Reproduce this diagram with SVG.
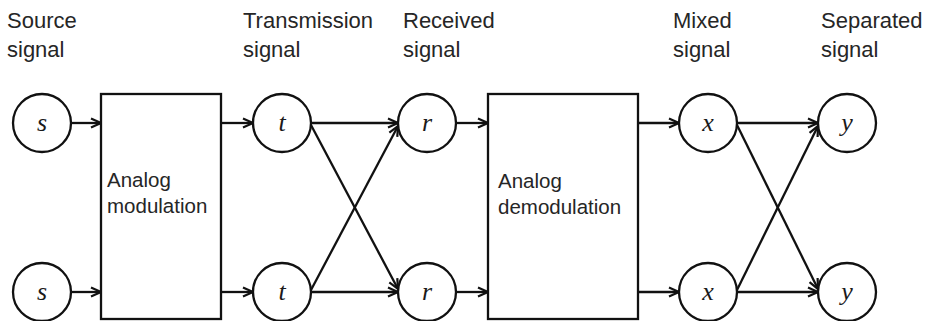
<svg xmlns="http://www.w3.org/2000/svg" width="927" height="321" viewBox="0 0 927 321">
  <style>
    .lbl { font-family: "Liberation Sans", Arial, sans-serif; font-size: 22px; fill: #262626; }
    .box-text { font-family: "Liberation Sans", Arial, sans-serif; font-size: 20.5px; fill: #262626; }
    .var { font-family: "Liberation Serif", "Times New Roman", serif; font-style: italic; font-size: 26px; fill: #1a1a1a; text-anchor: middle; }
    .node circle, .node rect { fill: #fff; stroke: #111; stroke-width: 2.3; }
    .edge { stroke: #111; stroke-width: 2.3; fill: none; marker-end: url(#arrow); }
  </style>
  <defs>
    <marker id="arrow" viewBox="0 0 12 12" refX="11" refY="6" markerWidth="12" markerHeight="12" markerUnits="userSpaceOnUse" orient="auto">
      <path d="M1,1.5 L11,6 L1,10.5" fill="none" stroke="#111" stroke-width="2.2"/>
    </marker>
  </defs>
  <rect width="927" height="321" fill="#fff"/>

  <!-- column headings -->
  <g id="headings">
    <text class="lbl" x="7" y="28">Source</text>
    <text class="lbl" x="7" y="57">signal</text>
    <text class="lbl" x="243" y="28">Transmission</text>
    <text class="lbl" x="243" y="57">signal</text>
    <text class="lbl" x="403" y="28">Received</text>
    <text class="lbl" x="403" y="57">signal</text>
    <text class="lbl" x="673" y="28">Mixed</text>
    <text class="lbl" x="673" y="57">signal</text>
    <text class="lbl" x="821" y="28">Separated</text>
    <text class="lbl" x="821" y="57">signal</text>
  </g>

  <!-- connectors -->
  <g id="connectors">
    <line class="edge" x1="71" y1="123" x2="101" y2="123"/>
    <line class="edge" x1="71" y1="292" x2="101" y2="292"/>
    <line class="edge" x1="221" y1="123" x2="253" y2="123"/>
    <line class="edge" x1="221" y1="292" x2="253" y2="292"/>
    <line class="edge" x1="311" y1="123" x2="398" y2="123"/>
    <line class="edge" x1="311" y1="292" x2="398" y2="292"/>
    <line class="edge" x1="311" y1="125" x2="398" y2="289"/>
    <line class="edge" x1="311" y1="290" x2="398" y2="126"/>
    <line class="edge" x1="456" y1="123" x2="488" y2="123"/>
    <line class="edge" x1="456" y1="292" x2="488" y2="292"/>
    <line class="edge" x1="638" y1="123" x2="679" y2="123"/>
    <line class="edge" x1="638" y1="292" x2="679" y2="292"/>
    <line class="edge" x1="737" y1="123" x2="818" y2="123"/>
    <line class="edge" x1="737" y1="292" x2="818" y2="292"/>
    <line class="edge" x1="737" y1="125" x2="818" y2="289"/>
    <line class="edge" x1="737" y1="290" x2="818" y2="126"/>
  </g>

  <!-- nodes -->
  <g id="s1" class="node"><circle cx="42" cy="123" r="29"/><text class="var" x="42" y="131">s</text></g>
  <g id="s2" class="node"><circle cx="42" cy="292" r="29"/><text class="var" x="42" y="300">s</text></g>
  <g id="modulation" class="node">
    <rect x="101" y="94" width="120" height="225"/>
    <text class="box-text" x="107" y="187">Analog</text>
    <text class="box-text" x="107" y="213">modulation</text>
  </g>
  <g id="t1" class="node"><circle cx="282" cy="123" r="29"/><text class="var" x="282" y="131">t</text></g>
  <g id="t2" class="node"><circle cx="282" cy="292" r="29"/><text class="var" x="282" y="300">t</text></g>
  <g id="r1" class="node"><circle cx="427" cy="123" r="29"/><text class="var" x="427" y="131">r</text></g>
  <g id="r2" class="node"><circle cx="427" cy="292" r="29"/><text class="var" x="427" y="300">r</text></g>
  <g id="demodulation" class="node">
    <rect x="488" y="94" width="150" height="225"/>
    <text class="box-text" x="498" y="188">Analog</text>
    <text class="box-text" x="498" y="214">demodulation</text>
  </g>
  <g id="x1" class="node"><circle cx="708" cy="123" r="29"/><text class="var" x="708" y="131">x</text></g>
  <g id="x2" class="node"><circle cx="708" cy="292" r="29"/><text class="var" x="708" y="300">x</text></g>
  <g id="y1" class="node"><circle cx="847" cy="123" r="29"/><text class="var" x="847" y="131">y</text></g>
  <g id="y2" class="node"><circle cx="847" cy="292" r="29"/><text class="var" x="847" y="300">y</text></g>
</svg>
